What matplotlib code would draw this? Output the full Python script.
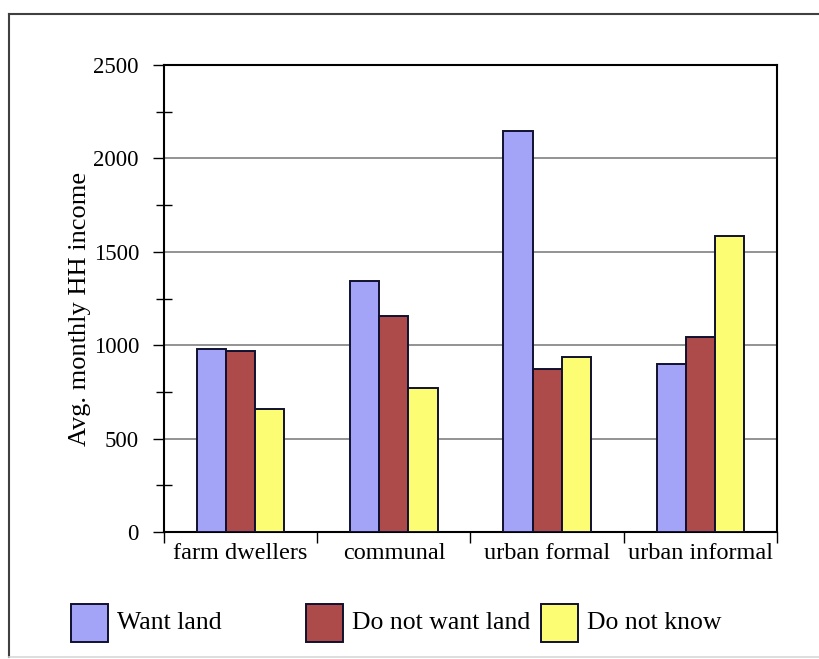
import numpy as np
import matplotlib.pyplot as plt
from matplotlib.patches import Rectangle
from matplotlib.lines import Line2D

plt.rcParams['font.family'] = ['Liberation Serif', 'DejaVu Serif']

categories = ['farm dwellers', 'communal', 'urban formal', 'urban informal']
series_names = ['Want land', 'Do not want land', 'Do not know']
want_land = [980, 1345, 2148, 897]
not_want_land = [969, 1157, 873, 1043]
dont_know = [659, 772, 937, 1586]
colors = ['#a3a3f7', '#ad4b4b', '#fdfd73']
yticks = [0, 500, 1000, 1500, 2000, 2500]

W, H = 820, 659
fig = plt.figure(figsize=(W / 100, H / 100), dpi=100)

# outer chart frame
fig.add_artist(Line2D([9 / W, 9 / W], [2 / H, 1 - 14 / H], color='#404040', lw=1.5))
fig.add_artist(Line2D([9 / W, 1], [1 - 14 / H, 1 - 14 / H], color='#404040', lw=1.5))
fig.add_artist(Line2D([9 / W, 1], [2 / H, 2 / H], color='#d8d8d8', lw=1.2))

ax = fig.add_axes([164 / W, 127 / H, (777 - 164) / W, (532 - 65) / H])

x = np.arange(len(categories))
bw = 0.19
for i, (vals, c) in enumerate(zip([want_land, not_want_land, dont_know], colors)):
    ax.bar(x + (i - 1) * bw, vals, bw, color=c, edgecolor='#101030', linewidth=1.4, zorder=3)

ax.set_xlim(-0.5, len(categories) - 0.5)
ax.set_ylim(0, 2500)
ax.set_yticks(yticks)
ax.set_yticks(np.arange(250, 2500, 500), minor=True)
ax.yaxis.grid(True, which='major', color='#808080', lw=1.2, zorder=0)
ax.tick_params(axis='y', which='major', direction='out', length=8, width=1, labelsize=16.5, pad=10)
ax.tick_params(axis='y', which='minor', direction='inout', length=12, width=1)

ax.set_xticks(np.arange(len(categories) + 1) - 0.5)
ax.set_xticklabels([])
ax.set_xticks(x, minor=True)
ax.set_xticklabels(categories, minor=True)
ax.tick_params(axis='x', which='major', direction='out', length=8, width=1)
ax.tick_params(axis='x', which='minor', length=0, labelsize=17.5, pad=8)

for s in ax.spines.values():
    s.set_color('black')
    s.set_linewidth(1.5)

ax.set_ylabel('Avg. monthly HH income', fontsize=19, labelpad=2)
ax.yaxis.label.set_y(0.478)

# legend row under the chart
for i, (name, c) in enumerate(zip(series_names, colors)):
    x0 = 71 + i * 235
    fig.add_artist(Rectangle((x0 / W, (H - 642) / H), 37 / W, 38 / H,
                             facecolor=c, edgecolor='#101030', lw=1.4))
    fig.text((x0 + 46) / W, (H - 623) / H, name, fontsize=18.5, va='center', ha='left')

fig.savefig('out.png', dpi=100)
